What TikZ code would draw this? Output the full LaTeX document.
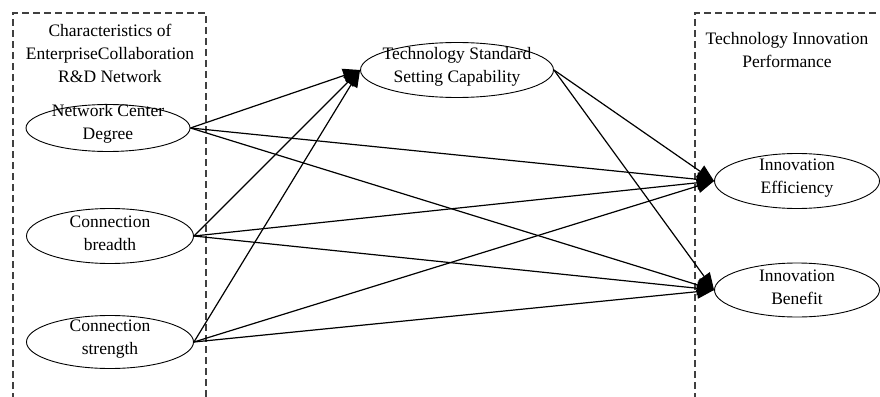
\documentclass[tikz,border=0pt]{standalone}
\usepackage{fontspec}
\setmainfont{Liberation Serif}
\usetikzlibrary{shapes.geometric,arrows.meta}
\begin{document}
\begin{tikzpicture}[x=1pt,y=-1pt,
  ell/.style={draw,ellipse,inner sep=0pt,line width=0.9pt},
  lbl/.style={align=center,font=\fontsize{17.5}{23}\selectfont},
  arr/.style={line width=1.2pt,-{Triangle[length=17pt,width=14pt]}},
  box/.style={draw=black!75,line width=1.1pt,dash pattern=on 7pt off 4pt}]
\useasboundingbox (0,0) rectangle (880,396);
\draw[box] (13,400) -- (13,13) -- (206,13) -- (206,400);
\draw[box] (695,400) -- (695,13) -- (884,13);
\node[lbl] (lt) at (110,53) {Characteristics of\\EnterpriseCollaboration\\R\&D Network};
\node[lbl] (rt) at (787,50) {Technology Innovation\\Performance};
\node[ell,minimum width=164pt,minimum height=47pt] (ncd) at (108,128) {};
\node[lbl] (ncdt) at (108,124) {Network Center\\Degree};
\node[ell,minimum width=167pt,minimum height=55pt] (cb) at (110,236) {};
\node[lbl] (cbt) at (110,233) {Connection\\breadth};
\node[ell,minimum width=167pt,minimum height=53pt] (cs) at (110,342) {};
\node[lbl] (cst) at (110,339) {Connection\\strength};
\node[ell,minimum width=193pt,minimum height=55pt] (ts) at (457,70) {};
\node[lbl] (tst) at (457,67) {Technology Standard\\Setting Capability};
\node[ell,minimum width=165pt,minimum height=55pt] (ie) at (797,181) {};
\node[lbl] (iet) at (797,178) {Innovation\\Efficiency};
\node[ell,minimum width=165pt,minimum height=54pt] (ib) at (797,290) {};
\node[lbl] (ibt) at (797,287) {Innovation\\Benefit};
\foreach \s in {ncd,cb,cs}{
  \draw[arr] (\s.east) -- (ts.west);
  \draw[arr] (\s.east) -- (ie.west);
  \draw[arr] (\s.east) -- (ib.west);
}
\draw[arr] (ts.east) -- (ie.west);
\draw[arr] (ts.east) -- (ib.west);
\end{tikzpicture}
\end{document}
